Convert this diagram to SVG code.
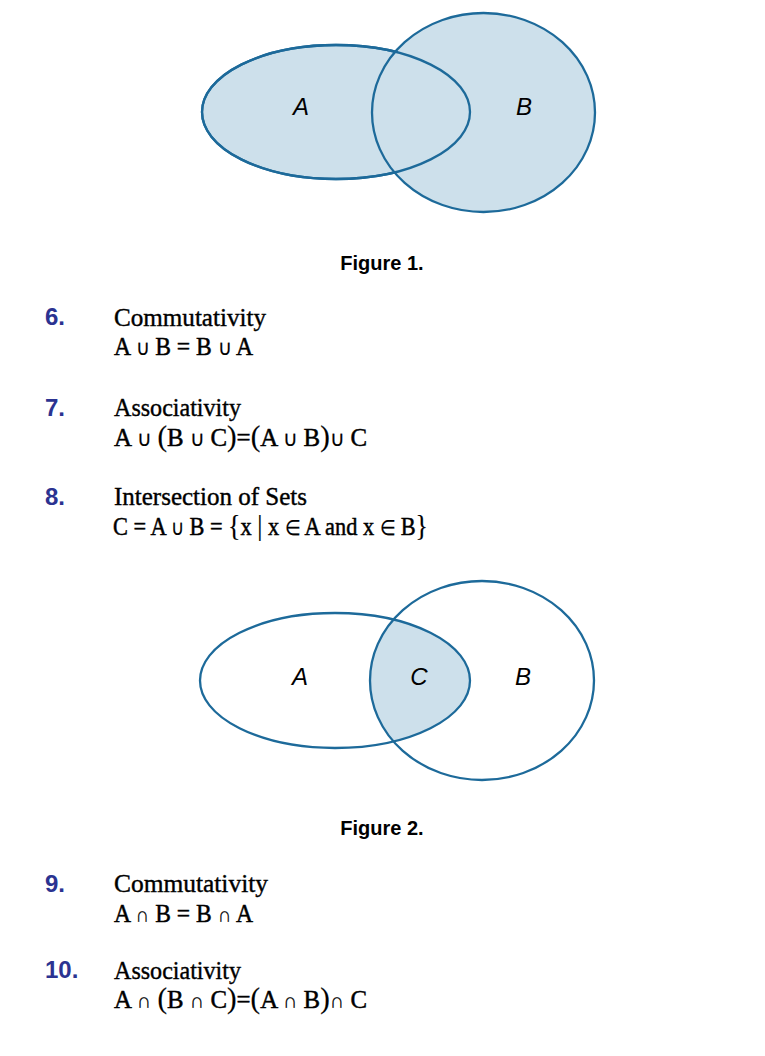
<svg xmlns="http://www.w3.org/2000/svg" width="765" height="1056" viewBox="0 0 765 1056">
<style>
.set{fill:#cde0eb;stroke:#1d6a9a;stroke-width:2.3}
.open{fill:none;stroke:#1d6a9a;stroke-width:2.3}
.lbl{font-family:"Liberation Sans",Arial,sans-serif;font-style:italic;font-size:24px;fill:#000;text-anchor:middle}
.cap{font-family:"Liberation Sans",Arial,sans-serif;font-weight:bold;font-size:20px;fill:#000;text-anchor:middle}
.num{font-family:"Liberation Sans",Arial,sans-serif;font-weight:bold;font-size:24px;fill:#2b3391}
.tt{font-family:"Liberation Serif","Times New Roman",serif;font-size:26px;fill:#000;stroke:#000;stroke-width:0.4}
.mth{font-family:"Liberation Serif","Times New Roman",serif;font-size:26px;fill:#000;stroke:#000;stroke-width:0.5}
.op{font-size:21px;stroke-width:0.2}
.par{font-size:30px;stroke-width:0.2}
</style>
<rect width="765" height="1056" fill="#fff"/>
<defs>
<clipPath id="clipA"><ellipse cx="335" cy="680.5" rx="135" ry="67.5"/></clipPath>
</defs>
<g id="figure1">
<ellipse class="set" cx="336" cy="112" rx="134" ry="67"/>
<ellipse class="set" cx="483.5" cy="112.5" rx="111.5" ry="99.5"/>
<ellipse class="open" cx="336" cy="112" rx="134" ry="67"/>
<text class="lbl" x="301" y="115">A</text>
<text class="lbl" x="524" y="115">B</text>
<text class="cap" x="382" y="270">Figure 1.</text>
</g>
<g id="item6">
<text class="num" x="45" y="325">6.</text>
<text class="tt" x="114" y="326" textLength="152" lengthAdjust="spacingAndGlyphs">Commutativity</text>
<text class="mth" x="114" y="355" textLength="139" lengthAdjust="spacingAndGlyphs">A <tspan class="op">∪</tspan> B = B <tspan class="op">∪</tspan> A</text>
</g>
<g id="item7">
<text class="num" x="45" y="416">7.</text>
<text class="tt" x="114" y="416" textLength="127" lengthAdjust="spacingAndGlyphs">Associativity</text>
<text class="mth" x="114" y="446" textLength="253" lengthAdjust="spacingAndGlyphs">A <tspan class="op">∪</tspan> <tspan class="par">(</tspan>B <tspan class="op">∪</tspan> C<tspan class="par">)</tspan>=<tspan class="par">(</tspan>A <tspan class="op">∪</tspan> B<tspan class="par">)</tspan><tspan class="op">∪</tspan> C</text>
</g>
<g id="item8">
<text class="num" x="45" y="505">8.</text>
<text class="tt" x="114" y="505" textLength="193" lengthAdjust="spacingAndGlyphs">Intersection of Sets</text>
<text class="mth" x="113" y="535" textLength="315" lengthAdjust="spacingAndGlyphs">C = A <tspan class="op">∪</tspan> B = <tspan class="par">{</tspan>x <tspan class="par">|</tspan> x <tspan class="op">∈</tspan> A and x <tspan class="op">∈</tspan> B<tspan class="par">}</tspan></text>
</g>
<g id="figure2">
<ellipse class="set" cx="482" cy="680.5" rx="112" ry="99.5" clip-path="url(#clipA)" style="stroke:none"/>
<ellipse class="open" cx="335" cy="680.5" rx="135" ry="67.5"/>
<ellipse class="open" cx="482" cy="680.5" rx="112" ry="99.5"/>
<text class="lbl" x="300" y="685">A</text>
<text class="lbl" x="419" y="685">C</text>
<text class="lbl" x="523" y="685">B</text>
<text class="cap" x="382" y="835">Figure 2.</text>
</g>
<g id="item9">
<text class="num" x="45" y="892">9.</text>
<text class="tt" x="114" y="892" textLength="154" lengthAdjust="spacingAndGlyphs">Commutativity</text>
<text class="mth" x="114" y="922" textLength="139" lengthAdjust="spacingAndGlyphs">A <tspan class="op">∩</tspan> B = B <tspan class="op">∩</tspan> A</text>
</g>
<g id="item10">
<text class="num" x="45" y="978">10.</text>
<text class="tt" x="114" y="979" textLength="127" lengthAdjust="spacingAndGlyphs">Associativity</text>
<text class="mth" x="114" y="1008" textLength="253" lengthAdjust="spacingAndGlyphs">A <tspan class="op">∩</tspan> <tspan class="par">(</tspan>B <tspan class="op">∩</tspan> C<tspan class="par">)</tspan>=<tspan class="par">(</tspan>A <tspan class="op">∩</tspan> B<tspan class="par">)</tspan><tspan class="op">∩</tspan> C</text>
</g>
<g id="connectors"/>
</svg>
